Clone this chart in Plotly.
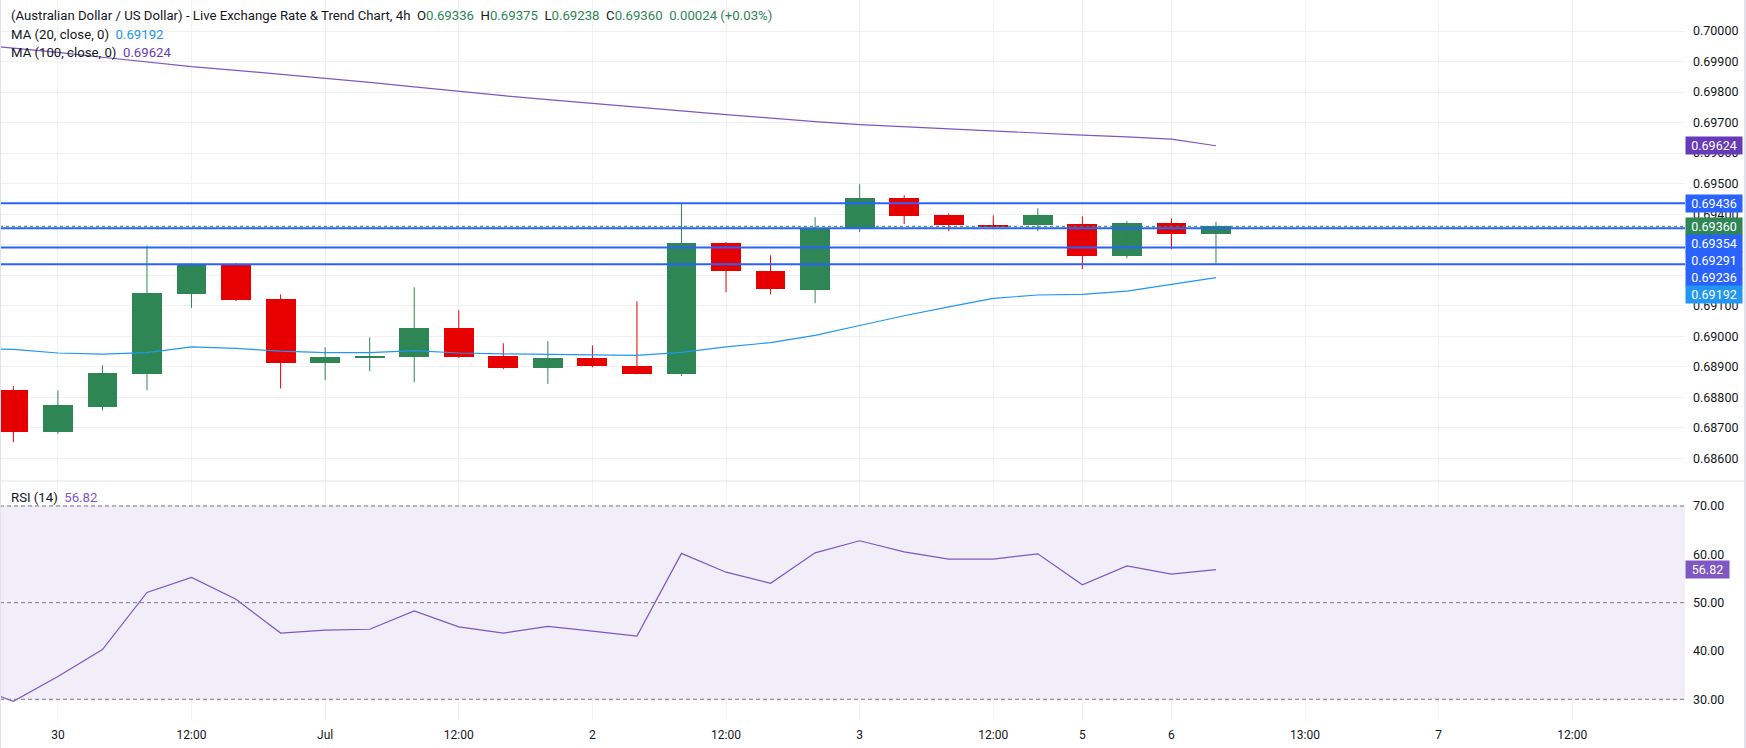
import plotly.graph_objects as go
from plotly.subplots import make_subplots

# ---------------- data ----------------
tick_pos = [1, 4, 7, 10, 13, 16, 19, 22, 24, 26, 29, 32, 35]
tick_text = ["30", "12:00", "Jul", "12:00", "2", "12:00", "3", "12:00", "5", "6", "13:00", "7", "12:00"]

opens = [0.68823, 0.68685, 0.68767, 0.68875, 0.69137, 0.69232, 0.69121, 0.68912, 0.68929, 0.68931,
         0.69026, 0.68934, 0.68895, 0.68928, 0.68901, 0.68875, 0.69305, 0.69213, 0.69150, 0.69350,
         0.69452, 0.69396, 0.69363, 0.69363, 0.69367, 0.69262, 0.69370, 0.69336]
highs = [0.68836, 0.68823, 0.68905, 0.69297, 0.69238, 0.69240, 0.69137, 0.68964, 0.68996, 0.69160,
         0.69085, 0.68977, 0.68984, 0.68970, 0.69114, 0.69434, 0.69308, 0.69265, 0.69390, 0.69498,
         0.69462, 0.69402, 0.69396, 0.69419, 0.69393, 0.69377, 0.69386, 0.69375]
lows = [0.68653, 0.68679, 0.68757, 0.68823, 0.69093, 0.69115, 0.68829, 0.68856, 0.68885, 0.68849,
        0.68929, 0.68892, 0.68844, 0.68898, 0.68875, 0.68870, 0.69144, 0.69137, 0.69108, 0.69341,
        0.69367, 0.69344, 0.69351, 0.69344, 0.69220, 0.69255, 0.69285, 0.69238]
closes = [0.68685, 0.68774, 0.68879, 0.69141, 0.69232, 0.69118, 0.68912, 0.68931, 0.68934, 0.69026,
          0.68931, 0.68895, 0.68928, 0.68901, 0.68875, 0.69305, 0.69213, 0.69154, 0.69354, 0.69452,
          0.69393, 0.69363, 0.69360, 0.69396, 0.69262, 0.69370, 0.69336, 0.69360]

# indicator series start one bar before the first visible candle (index -1)
ma20 = [0.68960, 0.68957, 0.68945, 0.68941, 0.68946, 0.68965, 0.68960, 0.68951, 0.68946, 0.68946,
        0.68953, 0.68945, 0.68942, 0.68940, 0.68938, 0.68937, 0.68947, 0.68965, 0.68979, 0.69003,
        0.69035, 0.69067, 0.69096, 0.69124, 0.69135, 0.69137, 0.69148, 0.69170, 0.69192]
ma100 = [0.69958, 0.69945, 0.69930, 0.69914, 0.69898, 0.69883, 0.69871, 0.69858, 0.69846, 0.69832,
         0.69817, 0.69802, 0.69788, 0.69775, 0.69762, 0.69750, 0.69738, 0.69726, 0.69714, 0.69703,
         0.69693, 0.69686, 0.69678, 0.69671, 0.69665, 0.69659, 0.69653, 0.69646, 0.69624]
rsi = [33.0, 29.6, 34.7, 40.3, 52.1, 55.2, 50.7, 43.7, 44.3, 44.5, 48.3, 45.0, 43.7, 45.1, 44.1,
       43.1, 60.2, 56.3, 54.0, 60.3, 62.8, 60.5, 59.0, 59.0, 60.1, 53.7, 57.6, 55.9, 56.82]

levels = [0.69436, 0.69354, 0.69291, 0.69236]
price_ticks = [0.686, 0.687, 0.688, 0.689, 0.690, 0.691, 0.692, 0.693, 0.694, 0.695,
               0.696, 0.697, 0.698, 0.699, 0.700]
rsi_ticks = [30, 40, 50, 60, 70]
rsi_bands = [30, 50, 70]

# ---------------- styles ----------------
GREEN = "#2e8655"
RED = "#e60000"
BLUE = "#2962ff"
MA20_C = "#2196f3"
MA100_C = "#7e57c2"
MA100_BOX = "#673ab7"
RSI_C = "#7e57c2"
TXT = "#131722"
GRID = "#f0f1f4"
BORDER = "#e0e3eb"
FONT = "Roboto"

W, H = 1746, 748
ML, MR, MT, MB = 0, 61, 0, 28
PW = W - ML - MR
PH = H - MT - MB
TOP_H = 481
BOT_H = PH - TOP_H

YMAIN = [0.685256, 0.701016]
YRSI = [25.72, 75.17]
XR = [-0.30, 37.53]

n = len(opens)
cidx = list(range(n))
lidx = list(range(-1, n))

fig = make_subplots(rows=2, cols=1, shared_xaxes=True, vertical_spacing=0)

# wicks
for col, cond in ((GREEN, lambda o, c: c >= o), (RED, lambda o, c: c < o)):
    xs, ys = [], []
    for i in cidx:
        if cond(opens[i], closes[i]):
            xs += [i, i, None]
            ys += [lows[i], highs[i], None]
    fig.add_trace(go.Scatter(x=xs, y=ys, mode="lines", line=dict(color=col, width=1),
                             hoverinfo="skip"), row=1, col=1)

# bodies
for col, cond in ((GREEN, lambda o, c: c >= o), (RED, lambda o, c: c < o)):
    xs, bs, hs = [], [], []
    for i in cidx:
        if cond(opens[i], closes[i]):
            xs.append(i)
            bs.append(min(opens[i], closes[i]))
            hs.append(max(abs(closes[i] - opens[i]), 0.00004))
    fig.add_trace(go.Bar(x=xs, y=hs, base=bs, width=0.67, marker=dict(color=col, line=dict(width=0)),
                         hoverinfo="skip"), row=1, col=1)

# moving averages
fig.add_trace(go.Scatter(x=lidx, y=ma20, mode="lines", line=dict(color=MA20_C, width=1.2),
                         hoverinfo="skip"), row=1, col=1)
fig.add_trace(go.Scatter(x=lidx, y=ma100, mode="lines", line=dict(color=MA100_C, width=1.2),
                         hoverinfo="skip"), row=1, col=1)

# RSI
fig.add_trace(go.Scatter(x=lidx, y=rsi, mode="lines", line=dict(color=RSI_C, width=1.2),
                         hoverinfo="skip"), row=2, col=1)

shapes = []
# horizontal levels
for lv in levels:
    shapes.append(dict(type="line", xref="x domain", yref="y", x0=0, x1=1, y0=lv, y1=lv,
                       line=dict(color=BLUE, width=2)))
# last close dotted line
shapes.append(dict(type="line", xref="x domain", yref="y", x0=0, x1=1, y0=closes[-1], y1=closes[-1],
                   line=dict(color=GREEN, width=1, dash="dot")))
# RSI band
shapes.append(dict(type="rect", xref="x2 domain", yref="y2", x0=0, x1=1, y0=rsi_bands[0], y1=rsi_bands[-1],
                   fillcolor="rgba(126,87,194,0.1)", line=dict(width=0), layer="below"))
for b in rsi_bands:
    shapes.append(dict(type="line", xref="x2 domain", yref="y2", x0=0, x1=1, y0=b, y1=b,
                       line=dict(color="#787b86", width=1, dash="4px,3px")))
# pane separator & borders
sep_y = BOT_H / PH
xr_edge = (W - 2 - ML) / PW
shapes.append(dict(type="line", xref="paper", yref="paper", x0=0, x1=xr_edge, y0=sep_y, y1=sep_y,
                   line=dict(color=BORDER, width=1)))
shapes.append(dict(type="line", xref="paper", yref="paper", x0=(W - 1 - ML) / PW, x1=(W - 1 - ML) / PW,
                   y0=-MB / PH, y1=1, line=dict(color=BORDER, width=2)))
shapes.append(dict(type="line", xref="paper", yref="paper", x0=0.5 / PW, x1=0.5 / PW,
                   y0=-MB / PH, y1=1, line=dict(color=BORDER, width=1)))

annotations = []


def px_of(p):
    return (YMAIN[1] - p) / (YMAIN[1] - YMAIN[0]) * TOP_H


def p_of(px):
    return YMAIN[1] - px / TOP_H * (YMAIN[1] - YMAIN[0])


# price labels on the axis (stacked)
labels = [(ma100[-1], MA100_BOX)] + [(lv, BLUE) for lv in levels] + [(closes[-1], GREEN), (ma20[-1], MA20_C)]
labels.sort(key=lambda t: -t[0])
BOX_H = 17
last_px = None
for val, colr in labels:
    px = px_of(val)
    if last_px is not None and px < last_px + BOX_H:
        px = last_px + BOX_H
    last_px = px
    annotations.append(dict(xref="paper", yref="y", x=1, y=p_of(px), xanchor="left", yanchor="middle",
                            text=f"{val:.5f}", showarrow=False, bgcolor=colr, width=56, height=BOX_H,
                            borderpad=0, font=dict(family=FONT, size=12.5, color="white")))
annotations.append(dict(xref="paper", yref="y2", x=1, y=rsi[-1], xanchor="left", yanchor="middle",
                        text=f"{rsi[-1]:.2f}", showarrow=False, bgcolor=RSI_C, width=43, height=BOX_H,
                        borderpad=0, font=dict(family=FONT, size=12.5, color="white")))

# legend texts
chg = closes[-1] - closes[-2]
pct = chg / closes[-2] * 100
g = lambda s: f"<span style='color:{GREEN}'>{s}</span>"
sp = "&nbsp;&nbsp;"
line1 = ("(Australian Dollar / US Dollar) - Live Exchange Rate &amp; Trend Chart, 4h" + sp +
         "O" + g(f"{opens[-1]:.5f}") + sp + "H" + g(f"{highs[-1]:.5f}") + sp +
         "L" + g(f"{lows[-1]:.5f}") + sp + "C" + g(f"{closes[-1]:.5f}") + sp +
         g(f"{chg:+.5f}".replace('+', '') + f" ({pct:+.2f}%)"))
line2 = "MA (20, close, 0)" + sp + f"<span style='color:{MA20_C}'>{ma20[-1]:.5f}</span>"
line3 = "MA (100, close, 0)" + sp + f"<span style='color:{MA100_BOX}'>{ma100[-1]:.5f}</span>"
line4 = "RSI (14)" + sp + f"<span style='color:{RSI_C}'>{rsi[-1]:.2f}</span>"
for txt, ypx in ((line1, 15.6), (line2, 34.5), (line3, 52.3), (line4, 497.5)):
    annotations.append(dict(xref="paper", yref="paper", x=9 / PW, y=1 - ypx / PH, xanchor="left",
                            yanchor="middle", text=txt, showarrow=False,
                            font=dict(family=FONT, size=13.2, color=TXT)))

fig.update_layout(
    width=W, height=H, margin=dict(l=ML, r=MR, t=MT, b=MB),
    paper_bgcolor="white", plot_bgcolor="white", showlegend=False, barmode="overlay",
    bargap=0, hovermode=False, shapes=shapes, annotations=annotations,
    font=dict(family=FONT, color=TXT, size=12),
)
axis_common = dict(range=XR, tickmode="array", tickvals=tick_pos, ticktext=tick_text,
                   showgrid=True, gridcolor=GRID, gridwidth=1, zeroline=False, showline=False)
fig.update_xaxes(**axis_common, showticklabels=False, row=1, col=1)
fig.update_xaxes(**axis_common, showticklabels=True, tickfont=dict(family=FONT, size=12, color=TXT),
                 ticks="", ticklabelstandoff=6, row=2, col=1)
fig.update_yaxes(side="right", range=YMAIN, tickmode="array", tickvals=price_ticks,
                 ticktext=[f"{v:.5f}" for v in price_ticks], showgrid=True, gridcolor=GRID,
                 zeroline=False, showline=False, ticks="", ticklabelstandoff=7,
                 tickfont=dict(family=FONT, size=12.5, color=TXT), row=1, col=1)
fig.update_yaxes(side="right", range=YRSI, tickmode="array", tickvals=rsi_ticks,
                 ticktext=[f"{v:.2f}" for v in rsi_ticks], showgrid=True, gridcolor=GRID,
                 zeroline=False, showline=False, ticks="", ticklabelstandoff=7,
                 tickfont=dict(family=FONT, size=12.5, color=TXT), row=2, col=1)
fig.update_layout(yaxis=dict(domain=[BOT_H / PH, 1]), yaxis2=dict(domain=[0, BOT_H / PH]))

fig.write_html("out.html")
